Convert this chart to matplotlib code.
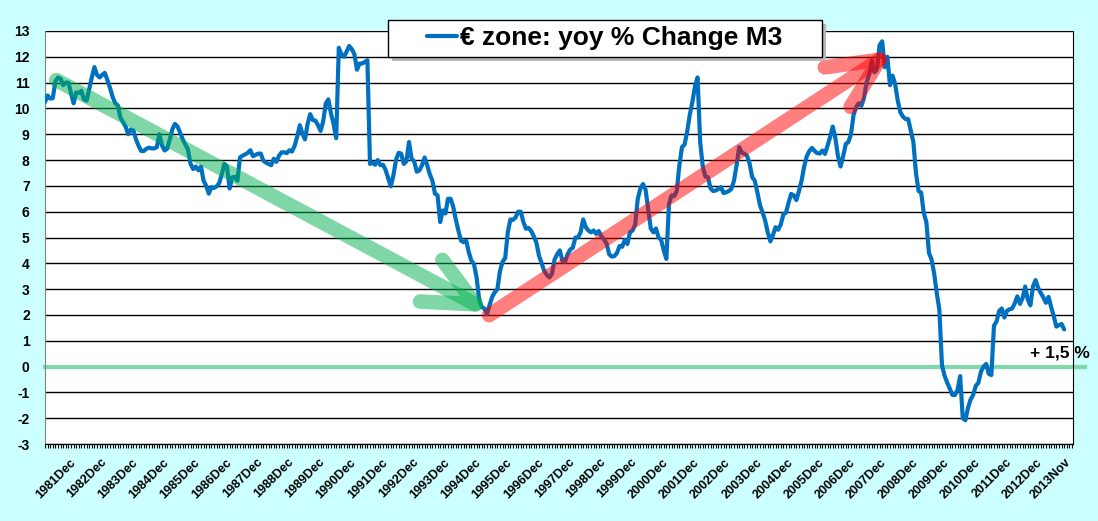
import numpy as np
import pandas as pd
import matplotlib
matplotlib.use("Agg")
import matplotlib.pyplot as plt
import matplotlib.transforms as mtransforms
from matplotlib.patches import Rectangle, FancyArrowPatch, ArrowStyle
from matplotlib.ticker import MultipleLocator

plt.rcParams['font.family'] = ['Liberation Sans', 'DejaVu Sans']
plt.rcParams['axes.unicode_minus'] = False

# monthly categories, 1981Mar .. 2013Nov
months = pd.period_range('1981-03', '2013-11', freq='M')

# euro zone M3, yoy % change
m3_yoy = [
    10.25, 10.5, 10.38, 10.4, 11.05, 11.2, 11.15, 10.9, 11.0, 11.0, 10.6, 10.2,
    10.62, 10.6, 10.68, 10.35, 10.3, 10.75, 11.2, 11.6, 11.3, 11.2, 11.3,
    11.38, 11.1, 10.8, 10.45, 10.2, 10.12, 9.65, 9.47, 9.3, 9.0, 9.18, 9.15,
    8.8, 8.55, 8.35, 8.35, 8.44, 8.48, 8.45, 8.45, 8.5, 9.0, 8.57, 8.37,
    8.44, 8.8, 9.2, 9.4, 9.3, 9.05, 8.8, 8.6, 8.4, 7.85, 7.65, 7.75,
    7.6, 7.75, 7.2, 7.0, 6.7, 6.95, 6.92, 6.98, 7.1, 7.45, 7.85,
    7.75, 6.9, 7.33, 7.35, 7.2, 8.1, 8.17, 8.22, 8.28, 8.38, 8.15, 8.2,
    8.25, 8.25, 7.97, 7.9, 7.85, 7.8, 8.05, 7.93, 8.17, 8.3, 8.3, 8.27,
    8.38, 8.33, 8.55, 8.9, 9.35, 9.03, 8.8, 9.4, 9.78, 9.55, 9.53, 9.35,
    9.13, 9.5, 10.2, 10.35, 9.8, 9.4, 8.85, 12.35, 12.1, 12.0, 12.2,
    12.42, 12.3, 12.1, 11.5, 11.74, 11.74, 11.8, 11.87, 7.85, 7.9, 7.82, 8.0,
    7.8, 7.82, 7.62, 7.3, 6.98, 7.4, 8.0, 8.28, 8.25, 7.85, 7.95, 8.7,
    8.05, 7.95, 7.55, 7.6, 7.8, 8.1, 7.8, 7.45, 7.2, 6.7, 6.63, 5.6,
    6.05, 5.93, 6.5, 6.5, 6.2, 5.7, 5.27, 4.88, 4.82, 4.88, 4.43, 4.1,
    3.97, 3.45, 2.6, 2.3, 2.25, 2.03, 2.38, 2.7, 2.88, 3.0, 3.7,
    4.06, 4.2, 5.2, 5.7, 5.68, 5.78, 6.0, 6.0, 5.6, 5.34, 5.37, 5.25,
    5.05, 4.8, 4.3, 4.0, 3.71, 3.55, 3.45, 3.6, 4.15, 4.35, 4.5, 4.1,
    4.05, 4.35, 4.53, 4.6, 5.0, 5.0, 5.2, 5.7, 5.4, 5.27, 5.2, 5.27,
    5.14, 5.25, 5.05, 4.92, 4.77, 4.35, 4.26, 4.28, 4.4, 4.67, 4.64,
    4.9, 4.75, 5.2, 5.27, 5.5, 6.5, 6.9, 7.07, 6.85, 6.1, 5.35, 5.2,
    5.35, 5.0, 4.9, 4.5, 4.17, 6.3, 6.63, 6.6, 6.8, 7.8, 8.5, 8.6,
    9.1, 9.75, 10.25, 10.85, 11.2, 8.7, 7.75, 7.36, 7.34, 6.9, 6.8, 6.82,
    6.88, 6.95, 6.72, 6.75, 6.8, 6.88, 7.2, 7.8, 8.5, 8.3, 8.24, 8.17,
    7.87, 7.34, 7.2, 6.75, 6.25, 5.98, 5.65, 5.2, 4.85, 5.1, 5.4,
    5.3, 5.5, 5.9, 5.96, 6.35, 6.69, 6.63, 6.45, 6.8, 7.2, 7.75, 8.15,
    8.35, 8.47, 8.35, 8.27, 8.25, 8.37, 8.24, 8.56, 8.9, 9.3, 8.85, 8.15,
    7.75, 8.15, 8.62, 8.7, 9.0, 9.75, 10.05, 10.2, 10.1, 10.4, 11.0, 11.33,
    11.85, 11.4, 11.5, 12.45, 12.6, 11.6, 12.0, 10.9, 11.27, 10.94, 10.3,
    9.85, 9.68, 9.59, 9.59, 9.14, 8.7, 7.5, 6.8, 6.74, 5.95, 5.6, 4.4,
    4.15, 3.6, 2.85, 2.2, 0.05, -0.35, -0.62, -0.85, -1.1, -1.1, -0.9, -0.37,
    -2.0, -2.08, -1.6, -1.28, -1.1, -0.75, -0.63, -0.2, 0.0, 0.1, -0.28, -0.33,
    1.58, 1.75, 2.15, 2.25, 1.9, 2.16, 2.22, 2.25, 2.45, 2.72, 2.43, 2.65,
    3.1, 2.6, 2.37, 3.1, 3.35, 3.05, 2.85, 2.68, 2.47, 2.7, 2.3,
    1.95, 1.55, 1.6, 1.65, 1.44,
]

legend_label = '€ zone: yoy % Change M3'
last_label = '+ 1,5 %'

# trend arrows (category index, value)
down_trend = [(4.35, 11.1), (171.3, 2.1)]
up_trend = [(170.8, 1.99), (326.5, 12.25)]

BLUE = '#0070C0'
BG = '#CCFFFF'

W, H = 1098, 521
fig = plt.figure(figsize=(W / 100, H / 100), dpi=100, facecolor=BG)
ax = fig.add_axes([45 / W, 1 - 444 / H, 1028 / W, 413 / H])
ax.set_facecolor('white')

x = np.arange(len(months))
line, = ax.plot(x, m3_yoy, color=BLUE, lw=3.0, zorder=3,
                solid_joinstyle='round', solid_capstyle='round')

ax.set_xlim(0, 395.4)
ax.set_ylim(-3, 13)
ax.set_yticks(range(-3, 14))
ax.grid(axis='y', color='black', lw=1.0)
ax.set_axisbelow(True)

# zero line
ax.axhline(0, xmin=0, xmax=1.012, color='#80D8A8', lw=3, clip_on=False, zorder=2.5)

# x ticks: every December plus the last month
tick_idx = [i for i, p in enumerate(months) if p.month == 12] + [len(months) - 1]
tick_lbl = [f"{months[i].year}{months[i].strftime('%b')}" for i in tick_idx]
ax.set_xticks(tick_idx)
ax.set_xticklabels(tick_lbl, rotation=45, ha='right', va='top',
                   rotation_mode='anchor', fontsize=9, fontweight='bold')
ax.xaxis.set_minor_locator(MultipleLocator(1))
ax.tick_params(axis='x', which='both', length=3, width=0.8, color='black', pad=3)
shift = mtransforms.ScaledTranslation(1 / 100, -4 / 100, fig.dpi_scale_trans)
for lbl in ax.get_xticklabels():
    lbl.set_transform(lbl.get_transform() + shift)

ax.tick_params(axis='y', length=0, pad=11, labelsize=10)
for lbl in ax.get_yticklabels():
    lbl.set_fontweight('bold')

ax.spines['top'].set_visible(False)
ax.spines['left'].set_color('#808080')
ax.spines['right'].set_color('black')
ax.spines['bottom'].set_color('black')

# trend arrows
for pts, col in [(down_trend, '#00B050'), (up_trend, '#FF0000')]:
    arr = FancyArrowPatch(pts[0], pts[1],
                          arrowstyle=ArrowStyle('->', head_length=0.36, head_width=0.17),
                          mutation_scale=100, lw=10.5, color=col, alpha=0.5,
                          capstyle='round', joinstyle='round',
                          shrinkA=0, shrinkB=0, zorder=4)
    ax.add_patch(arr)

ax.text(379.0, 0.36, last_label, fontsize=12.5, fontweight='bold',
        ha='left', va='baseline', zorder=6)

# legend box with shadow
fig.add_artist(Rectangle((392 / W, 1 - 61 / H), 434 / W, 37 / H, transform=fig.transFigure,
                         fc='#B8B8B8', ec='none', zorder=1))
fig.add_artist(Rectangle((388 / W, 1 - 57 / H), 434 / W, 37 / H, transform=fig.transFigure,
                         fc='white', ec='black', lw=1, zorder=1.1))
fig.legend(handles=[line], labels=[legend_label], loc='center left',
           bbox_to_anchor=(427 / W, 1 - 38.5 / H), frameon=False,
           borderpad=0, borderaxespad=0, handlelength=1.15, handletextpad=0.1,
           prop={'weight': 'bold', 'size': 19})

fig.savefig('out.png', dpi=100, facecolor=BG)
